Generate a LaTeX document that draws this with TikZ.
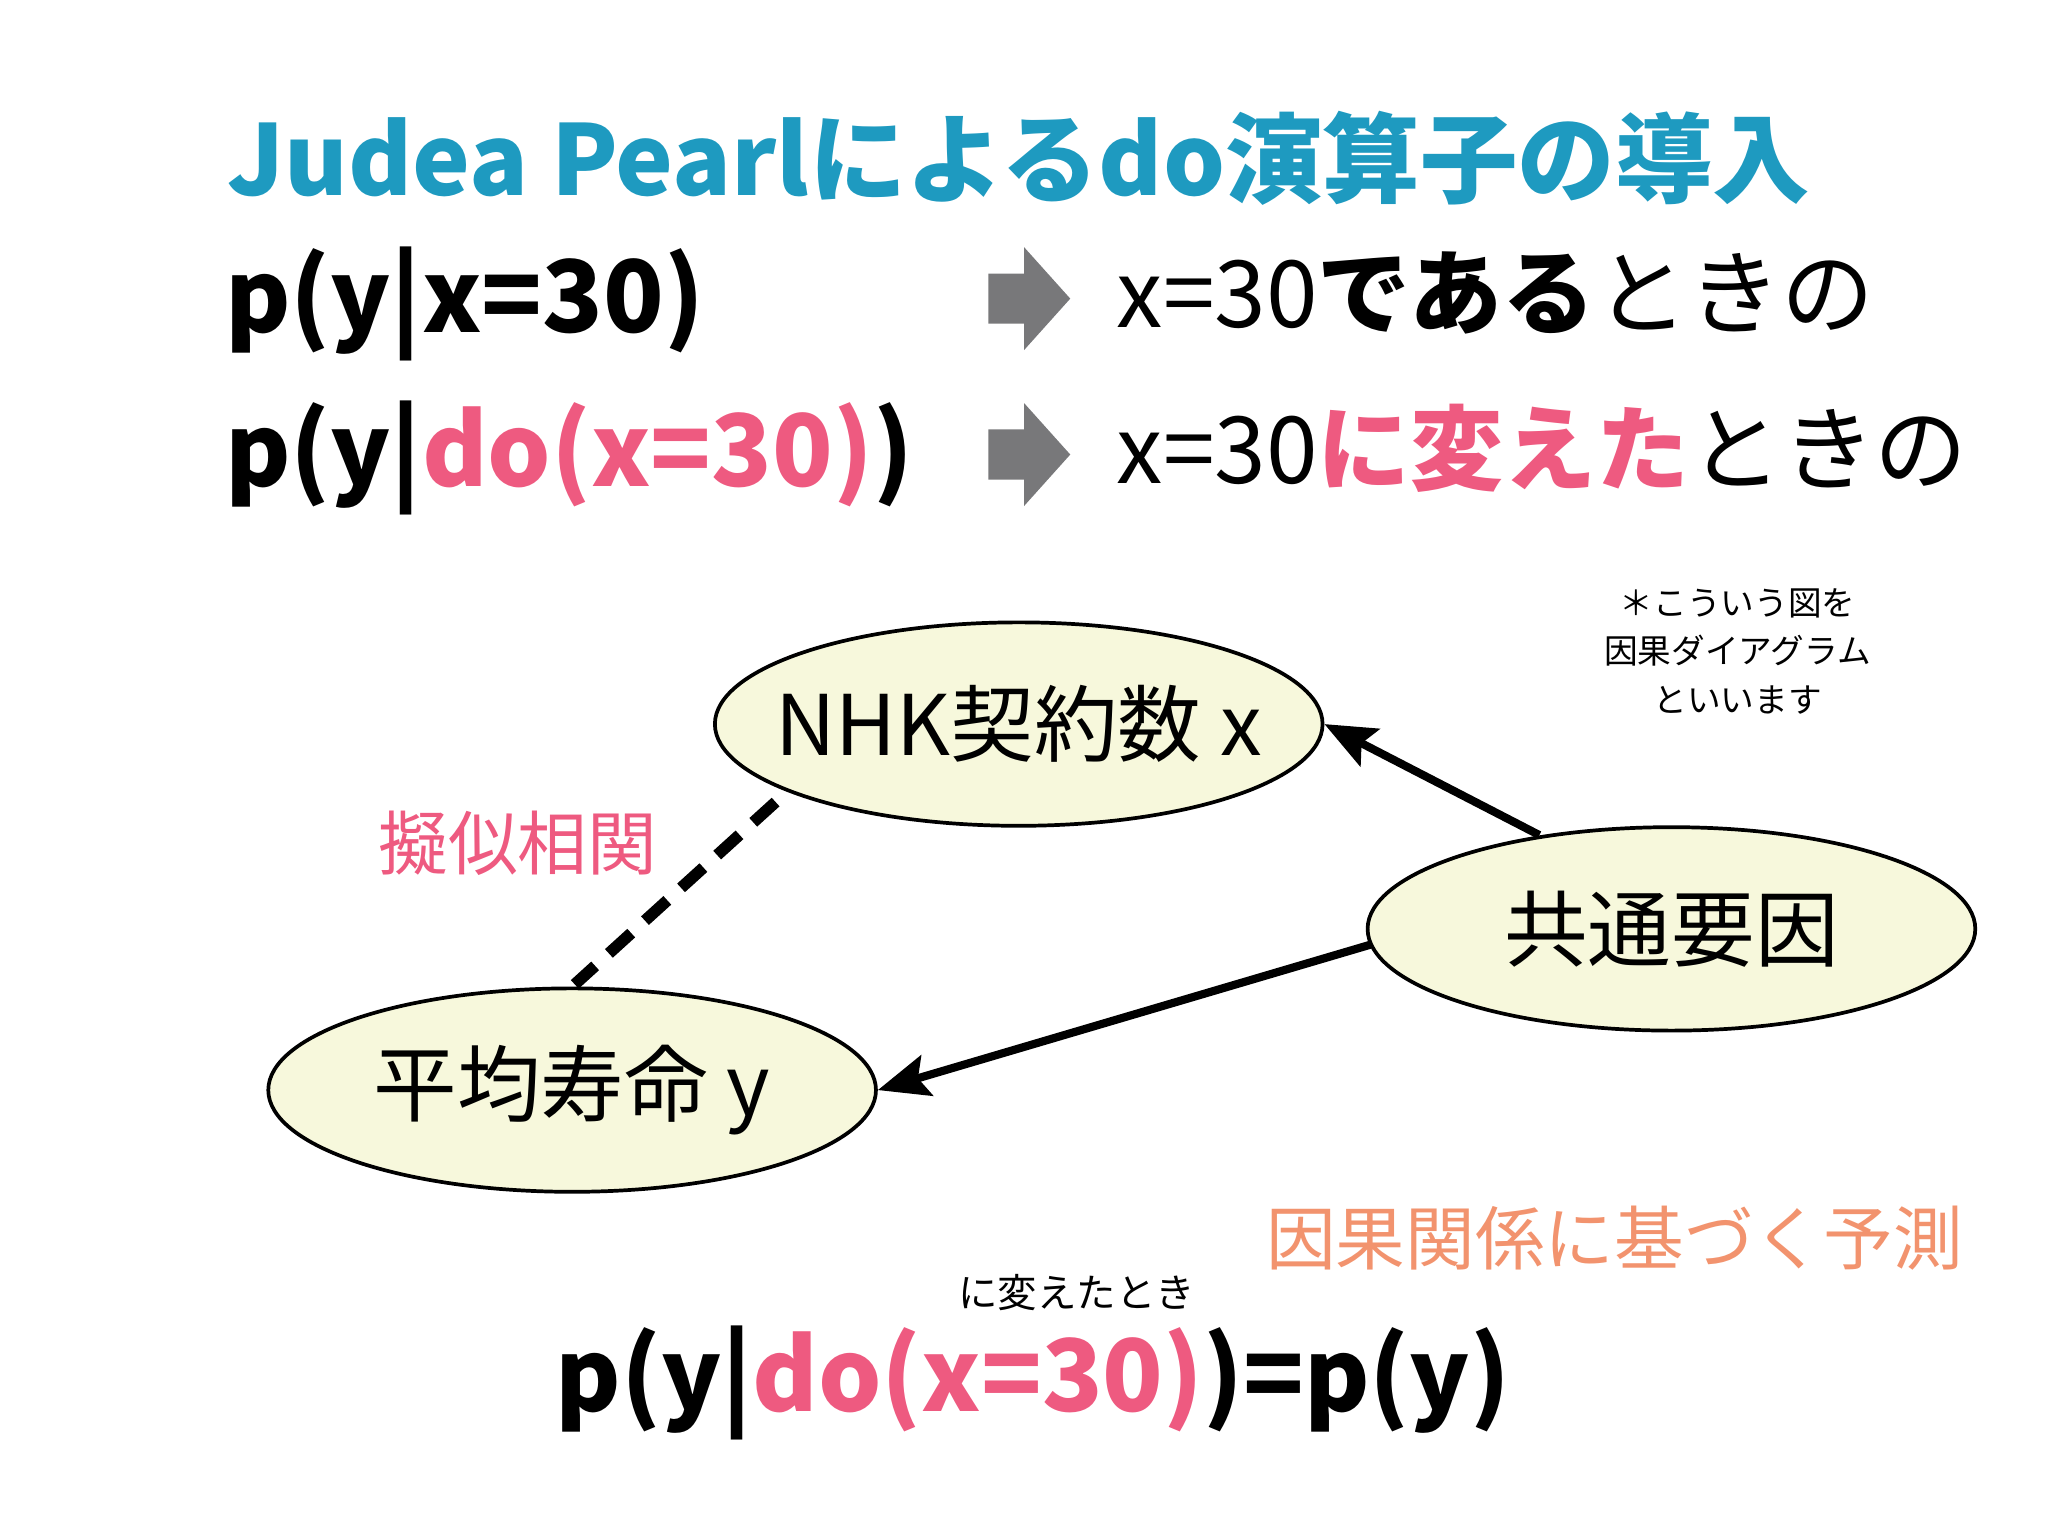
\documentclass[tikz,border=0pt]{standalone}
\usepackage{fontspec}
\setmainfont{Noto Sans CJK JP}
\usetikzlibrary{arrows.meta,shapes.geometric}
\definecolor{ttl}{HTML}{1E9AC0}
\definecolor{pk}{HTML}{EE5A80}
\definecolor{org}{HTML}{F2936E}
\definecolor{ell}{HTML}{F7F8DC}
\definecolor{garr}{HTML}{78787A}
\begin{document}
\begin{tikzpicture}[x=0.02cm,y=-0.02cm,
  txt/.style={anchor=base west,inner sep=0},
  bub/.style={ellipse,draw,line width=1.6pt,fill=ell,minimum width=9.2cm,minimum height=3.08cm,inner sep=0},
  btxt/.style={font=\fontsize{36}{40}\selectfont},
  link/.style={line width=3.5pt,-{Stealth[length=22pt,width=18pt,inset=4pt]}}]
\useasboundingbox (0,0) rectangle (1550,1162.5);
\node[txt,text=ttl,font=\fontsize{42}{48}\selectfont\bfseries] (title) at (172,148) {Judea Pearlによるdo演算子の導入};
\node[txt,font=\fontsize{43}{48}\selectfont\bfseries] (r1) at (170,252) {p(y|x=30)};
\node[txt,font=\fontsize{43}{48}\selectfont\bfseries] (r2) at (170,368) {p(y|\textcolor{pk}{do(x=30)})};
\fill[garr] (748,207) -- (775,207) -- (775,187) -- (810,226) -- (775,265) -- (775,245) -- (748,245) -- cycle;
\fill[garr] (748,325) -- (775,325) -- (775,305) -- (810,344) -- (775,383) -- (775,363) -- (748,363) -- cycle;
\node[txt,font=\fontsize{40}{46}\selectfont] (d1) at (845,248) {x=30{\bfseries である}ときの};
\node[txt,font=\fontsize{40}{46}\selectfont] (d2) at (845,366) {x=30{\bfseries\color{pk}に変えた}ときの};
\node[font=\fontsize{14.5}{21}\selectfont,align=center] (note) at (1315,493) {＊こういう図を\\因果ダイアグラム\\といいます};
\node[bub] (x) at (771,548) {};
\node[btxt] (xl) at (x) {NHK契約数 x};
\node[bub] (c) at (1265,703) {};
\node[btxt] (cl) at (c) {共通要因};
\node[bub] (y) at (433,825) {};
\node[btxt] (yl) at (y) {平均寿命 y};
\node[text=pk,font=\fontsize{30}{34}\selectfont] (sp) at (392,638) {擬似相関};
\coordinate (cx) at (1165,632);
\coordinate (cy) at (1037,715);
\draw[link] (cx) -- (x.east);
\draw[link] (cy) -- (y.east);
\coordinate (dx) at (587,607);
\coordinate (dy) at (435,745);
\draw[line width=5pt,dash pattern=on 13pt off 8pt] (dx) -- (dy);
\node[text=org,font=\fontsize{30}{34}\selectfont,anchor=base west,inner sep=0] (pred) at (958,957) {因果関係に基づく予測};
\node[font=\fontsize{17}{20}\selectfont] (ann) at (815,978) {に変えたとき};
\node[txt,font=\fontsize{43}{48}\selectfont\bfseries] (bot) at (420,1068) {p(y|\textcolor{pk}{do(x=30)})=p(y)};
\end{tikzpicture}
\end{document}
